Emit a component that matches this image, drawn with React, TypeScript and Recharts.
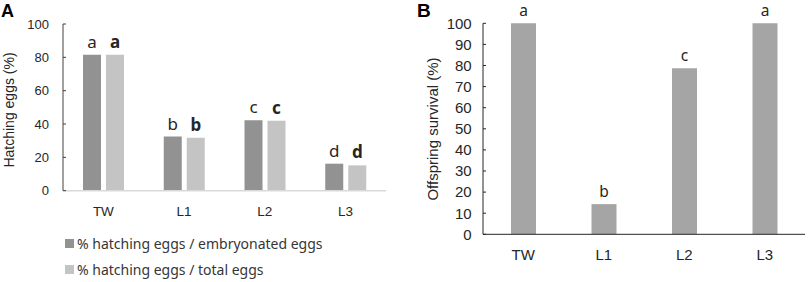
import { BarChart, Bar, XAxis, YAxis, LabelList } from 'recharts'

const GROUPS = ['TW', 'L1', 'L2', 'L3']
const HATCH_EMBRYO = [81.5, 32.5, 42.2, 16.2]
const HATCH_TOTAL = [81.5, 31.8, 42.0, 15.2]
const LETTERS_A = ['a', 'b', 'c', 'd']
const SURVIVAL = [100, 14.3, 78.7, 100]
const LETTERS_B = ['a', 'b', 'c', 'a']
const TICKS_A = [0, 20, 40, 60, 80, 100]
const TICKS_B = [0, 10, 20, 30, 40, 50, 60, 70, 80, 90, 100]

const SERIES_A = [
  { key: 'embryo', name: '% hatching eggs / embryonated eggs', color: '#929292', bold: false },
  { key: 'total', name: '% hatching eggs / total eggs', color: '#c4c4c4', bold: true },
]
const BAR_B = '#a5a5a5'

const TICK_FONT = '"Liberation Sans", Arial, sans-serif'
const LABEL_FONT = '"Noto Sans", "Open Sans", sans-serif'

const dataA = GROUPS.map((g, i) => ({ group: g, embryo: HATCH_EMBRYO[i], total: HATCH_TOTAL[i], letter: LETTERS_A[i] }))
const dataB = GROUPS.map((g, i) => ({ group: g, survival: SURVIVAL[i], letter: LETTERS_B[i] }))

export default function App() {
  return (
    <div style={{ position: 'absolute', left: 0, top: 0, width: 809, height: 282, background: '#fff', fontFamily: TICK_FONT }}>
      {/* panel A */}
      <div style={{ position: 'absolute', left: 0, top: 0 }}>
        <BarChart width={400} height={282} data={dataA} barSize={18} barGap={5}
          margin={{ top: 24, right: 14, left: 0, bottom: 61.3 }}>
          <XAxis dataKey="group" height={30} tickLine={false} tickSize={0} tickMargin={16}
            axisLine={{ stroke: '#d9d9d9', strokeWidth: 1.5 }}
            tick={{ fontSize: 13.5, fill: '#262626', fontFamily: TICK_FONT }} />
          <YAxis width={63} domain={[0, 100]} ticks={TICKS_A} interval={0}
            tickSize={-3} tickMargin={17} axisLine={{ stroke: '#404040' }} tickLine={{ stroke: '#404040' }}
            tick={{ fontSize: 13, fill: '#262626', fontFamily: TICK_FONT }}
            label={{
              content: () => (
                <text x={9} y={110} transform="rotate(-90 9 110)" textAnchor="middle" dominantBaseline="central"
                  fontSize={14} fill="#262626" fontFamily={TICK_FONT}>Hatching eggs (%)</text>
              ),
            }} />
          {SERIES_A.map((s) => (
            <Bar key={s.key} dataKey={s.key} name={s.name} fill={s.color} isAnimationActive={false}>
              <LabelList dataKey="letter" position="top" offset={7} fill="#262626" fontSize={17}
                fontFamily={LABEL_FONT} fontWeight={s.bold ? 700 : 400} />
            </Bar>
          ))}
        </BarChart>
      </div>
      <div style={{ position: 'absolute', left: 1, top: 2, fontSize: 18, lineHeight: '18px', fontWeight: 700, color: '#000' }}>A</div>
      {/* legend A */}
      {SERIES_A.map((s, i) => (
        <div key={s.key} style={{ position: 'absolute', left: 65, top: 234 + i * 26, height: 19, display: 'flex', alignItems: 'center',
          fontFamily: LABEL_FONT, fontSize: 14, color: '#363636', whiteSpace: 'nowrap' }}>
          <span style={{ display: 'inline-block', width: 8.5, height: 8.5, background: s.color, marginRight: 3.5 }} />
          {s.name}
        </div>
      ))}

      {/* panel B */}
      <div style={{ position: 'absolute', left: 400, top: 0 }}>
        <BarChart width={409} height={282} data={dataB} barSize={25}
          margin={{ top: 23.3, right: 4, left: 0, bottom: 17.7 }}>
          <XAxis dataKey="group" height={30} tickLine={false} tickSize={0} tickMargin={15.4}
            axisLine={{ stroke: '#262626' }}
            tick={{ fontSize: 15, fill: '#262626', fontFamily: TICK_FONT }} />
          <YAxis width={83} domain={[0, 100]} ticks={TICKS_B} interval={0}
            tickSize={-3} tickMargin={14.3} axisLine={{ stroke: '#262626' }} tickLine={{ stroke: '#262626' }}
            tick={{ fontSize: 15, fill: '#262626', fontFamily: TICK_FONT }}
            label={{
              content: () => (
                <text x={32} y={129} transform="rotate(-90 32 129)" textAnchor="middle" dominantBaseline="central"
                  fontSize={15} fill="#262626" fontFamily={TICK_FONT}>Offspring survival (%)</text>
              ),
            }} />
          <Bar dataKey="survival" fill={BAR_B} isAnimationActive={false}>
            <LabelList dataKey="letter" position="top" offset={7} fill="#262626" fontSize={15.5} fontFamily={LABEL_FONT} />
          </Bar>
        </BarChart>
      </div>
      <div style={{ position: 'absolute', left: 417, top: 1, fontSize: 19, lineHeight: '19px', fontWeight: 700, color: '#000' }}>B</div>
    </div>
  )
}
